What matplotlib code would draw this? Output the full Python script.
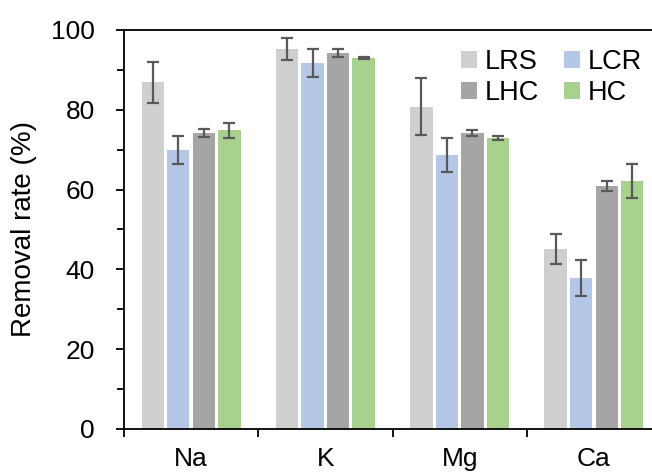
import numpy as np
import matplotlib.pyplot as plt
from matplotlib.ticker import MultipleLocator, FixedLocator

plt.rcParams['font.family'] = ['Liberation Sans', 'DejaVu Sans']

ions = ['Na', 'K', 'Mg', 'Ca']
series = ['LRS', 'LCR', 'LHC', 'HC']
values = {
    'LRS': [86.9, 95.3, 80.8, 45.1],
    'LCR': [69.9, 91.7, 68.7, 37.9],
    'LHC': [74.1, 94.2, 74.1, 60.9],
    'HC':  [74.8, 92.9, 72.9, 62.1],
}
errors = {
    'LRS': [5.1, 2.8, 7.2, 3.7],
    'LCR': [3.4, 3.4, 4.3, 4.5],
    'LHC': [1.0, 1.0, 0.8, 1.3],
    'HC':  [1.8, 0.3, 0.6, 4.3],
}
colors = ['#d0cfd0', '#b4c7e7', '#a5a5a5', '#a9d18e']

fig = plt.figure(figsize=(6.52, 4.75), dpi=100)
ax = fig.add_axes([0.190, 0.097, 0.824, 0.840])

x = np.arange(len(ions))
step = 0.19
width = 0.167
bars = {}
for i, name in enumerate(series):
    bars[name] = ax.bar(x + (i - 1.5) * step, values[name], width, yerr=errors[name],
                        color=colors[i], label=name, capsize=4.5,
                        error_kw=dict(ecolor='#595959', elinewidth=1.6, capthick=1.6))

ax.set_xlim(-0.5, 3.5)
ax.set_ylim(0, 100)
ax.yaxis.set_major_locator(MultipleLocator(20))
ax.yaxis.set_minor_locator(MultipleLocator(10))
ax.xaxis.set_major_locator(FixedLocator([-0.5, 0.5, 1.5, 2.5]))
ax.xaxis.set_minor_locator(FixedLocator(x))
ax.set_xticklabels([])
ax.set_xticklabels(ions, minor=True)
ax.tick_params(axis='x', which='major', direction='out', length=6, width=1.3)
ax.tick_params(axis='x', which='minor', length=0, pad=13, labelsize=19)
ax.tick_params(axis='y', which='major', direction='out', length=6, width=1.3,
               labelsize=19, pad=15)
ax.tick_params(axis='y', which='minor', direction='out', length=5, width=1.3)
for s in ax.spines.values():
    s.set_linewidth(1.3)

ax.set_ylabel('Removal rate (%)', fontsize=20, labelpad=10)

# row-wise legend order: LRS LCR / LHC HC
order = ['LRS', 'LHC', 'LCR', 'HC']
ax.legend([bars[n] for n in order], order, ncol=2, frameon=False, fontsize=19.5,
          loc='upper right', bbox_to_anchor=(1.0, 1.0), handlelength=0.6,
          handleheight=0.6, handletextpad=0.3, columnspacing=0.9,
          labelspacing=0.2, borderaxespad=0.3)

fig.savefig('out.png', dpi=100)
